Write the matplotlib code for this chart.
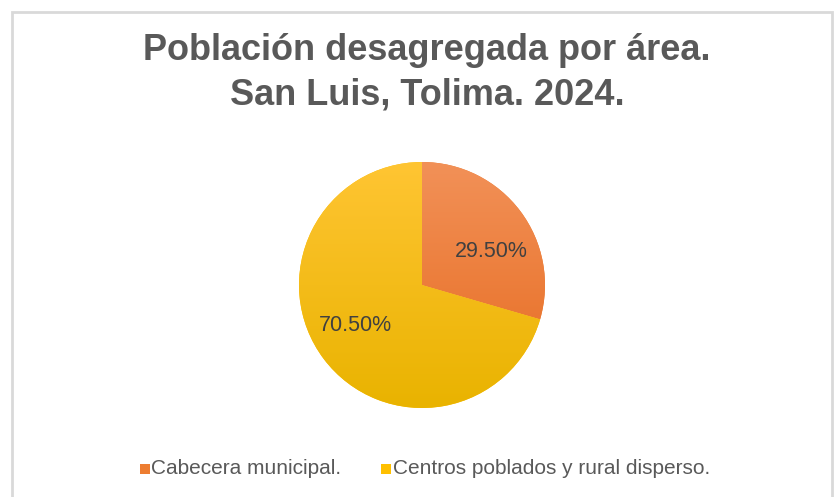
import numpy as np
import matplotlib.pyplot as plt
from matplotlib.colors import LinearSegmentedColormap
from matplotlib.patches import Rectangle

plt.rcParams['font.family'] = ['Liberation Sans', 'DejaVu Sans']

# datos
areas = ["Cabecera municipal.", "Centros poblados y rural disperso."]
porcentajes = [29.50, 70.50]
etiquetas = ["29.50%", "70.50%"]

colores = ["#ED7D31", "#FFC000"]
grad_top = ["#F29158", "#FFC533"]
grad_bot = ["#E66A1E", "#E9B300"]

W, H = 837, 497
fig = plt.figure(figsize=(W / 100, H / 100), dpi=100)
fig.patch.set_facecolor("white")

# marco gris del gráfico
fig.patches.append(Rectangle((12 / W, -0.05), (832 - 12) / W, 1.05 - 12 / H,
                             transform=fig.transFigure, fill=False,
                             edgecolor="#D9D9D9", linewidth=2))

fig.text(427 / W, 1 - 50 / H, "Población desagregada por área.", ha="center", va="center",
         fontsize=26, fontweight="bold", color="#595959")
fig.text(427 / W, 1 - 95 / H, "San Luis, Tolima. 2024.", ha="center", va="center",
         fontsize=26, fontweight="bold", color="#595959")

cx, cy, r = 422, 285, 123
ax = fig.add_axes([(cx - r) / W, (H - cy - r) / H, 2 * r / W, 2 * r / H])
wedges, _ = ax.pie(porcentajes, colors=colores, startangle=90, counterclock=False,
                   radius=1, wedgeprops=dict(linewidth=0))
ax.set_xlim(-1, 1)
ax.set_ylim(-1, 1)
ax.set_aspect("equal")
ax.axis("off")

# degradado vertical en cada sector
for w, c1, c2 in zip(wedges, grad_top, grad_bot):
    cmap = LinearSegmentedColormap.from_list("g", [c2, c1])
    grad = np.linspace(0, 1, 256).reshape(-1, 1)
    im = ax.imshow(grad, cmap=cmap, extent=[-1, 1, -1, 1], origin="lower",
                   aspect="auto", zorder=w.get_zorder() + 0.1)
    im.set_clip_path(w)

pos = [(0.56, 0.27), (-0.54, -0.33)]
for (x, y), t in zip(pos, etiquetas):
    ax.text(x, y, t, ha="center", va="center", fontsize=15.5, color="#404040", zorder=5)

# leyenda
ly = 1 - 469 / H
fig.patches.append(Rectangle((140 / W, ly - 5 / H), 10 / W, 10 / H, transform=fig.transFigure,
                             facecolor=colores[0], edgecolor="none"))
fig.text(151 / W, ly, areas[0], ha="left", va="center", fontsize=15, color="#595959")
fig.patches.append(Rectangle((381 / W, ly - 5 / H), 10 / W, 10 / H, transform=fig.transFigure,
                             facecolor=colores[1], edgecolor="none"))
fig.text(393 / W, ly, areas[1], ha="left", va="center", fontsize=15, color="#595959")

fig.savefig("out.png", dpi=100)
